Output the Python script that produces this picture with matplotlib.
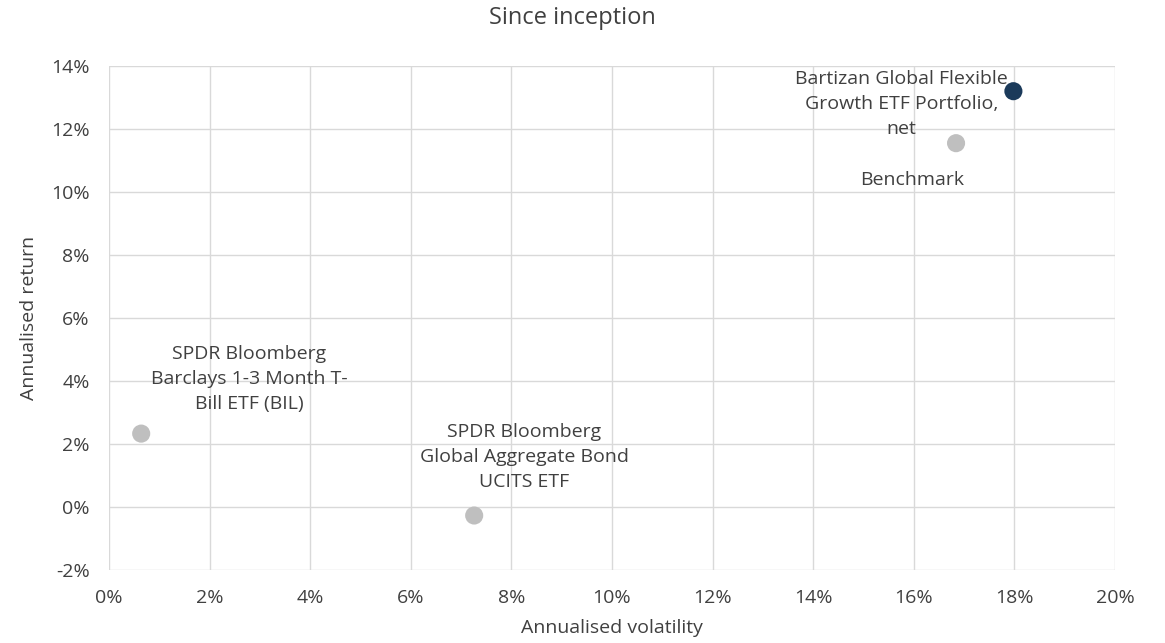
import matplotlib.pyplot as plt
from matplotlib.ticker import FuncFormatter

plt.rcParams['font.family'] = ['Open Sans', 'DejaVu Sans']

# data (annualised volatility %, annualised return %)
names = ["Bartizan Global Flexible\nGrowth ETF Portfolio,\nnet",
         "Benchmark",
         "SPDR Bloomberg\nBarclays 1-3 Month T-\nBill ETF (BIL)",
         "SPDR Bloomberg\nGlobal Aggregate Bond\nUCITS ETF"]
volatility = [17.98, 16.84, 0.64, 7.26]
returns = [13.2, 11.55, 2.33, -0.27]
colors = ['#1b3a5a', '#bfbfbf', '#bfbfbf', '#bfbfbf']
# label offsets in pixels relative to each point
offsets = [(-112, -13), (-44, -37), (108, 55), (50, 59)]

fig = plt.figure(figsize=(11.65, 6.43), dpi=100)
ax = fig.add_axes([109 / 1165, 73 / 643, 1006 / 1165, 504 / 643])

ax.scatter(volatility, returns, s=170, c=colors, zorder=3, linewidths=0)

for name, x, y, off in zip(names, volatility, returns, offsets):
    ax.annotate(name, (x, y), xytext=off, textcoords='offset pixels',
                ha='center', va='center', fontsize=14, color='#404040',
                linespacing=1.5, zorder=4)

pct = FuncFormatter(lambda v, p: f"{v:.0f}%".replace('\u2212', '-'))
ax.set_xlim(0, 20)
ax.set_ylim(-2, 14)
ax.set_xticks(range(0, 21, 2))
ax.set_yticks(range(-2, 15, 2))
ax.xaxis.set_major_formatter(pct)
ax.yaxis.set_major_formatter(pct)
ax.grid(True, color='#d9d9d9', linewidth=1)
ax.set_axisbelow(True)
for s in ax.spines.values():
    s.set_visible(False)
ax.tick_params(axis='x', length=0, labelsize=14, labelcolor='#404040', pad=14)
ax.tick_params(axis='y', length=0, labelsize=14, labelcolor='#404040', pad=14)

ax.set_xlabel("Annualised volatility", fontsize=14, color='#404040', labelpad=8)
ax.set_ylabel("Annualised return", fontsize=14, color='#404040', labelpad=9)
fig.suptitle("Since inception", x=0.491, y=0.99, fontsize=17, color='#404040')

fig.savefig("out.png", dpi=100)
